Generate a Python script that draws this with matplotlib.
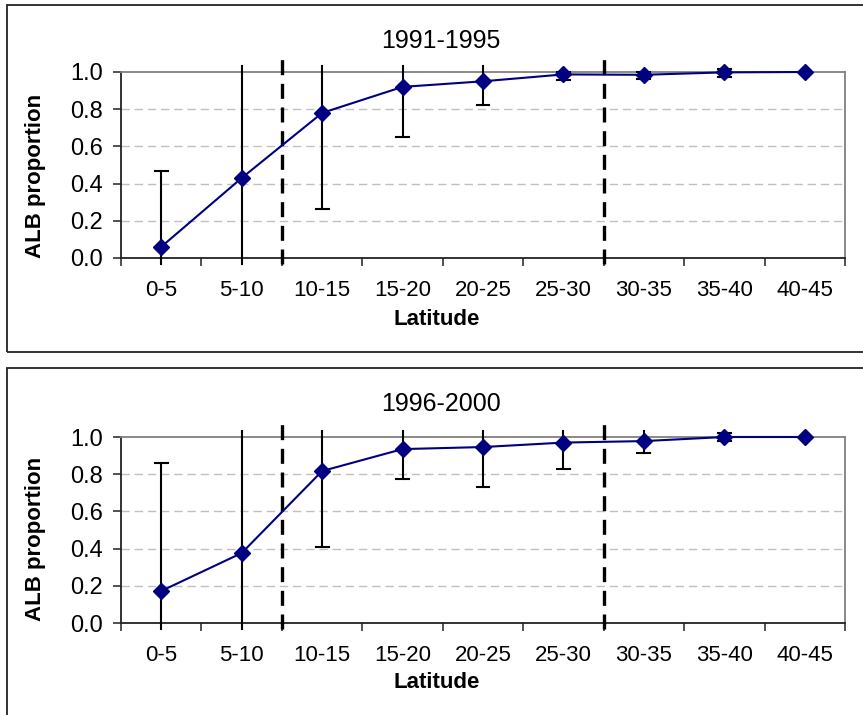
import matplotlib
matplotlib.use("Agg")
import matplotlib.pyplot as plt
import numpy as np
from matplotlib.patches import Rectangle

plt.rcParams['font.family'] = ['Liberation Sans', 'DejaVu Sans']

categories = ["0-5", "5-10", "10-15", "15-20", "20-25", "25-30", "30-35", "35-40", "40-45"]

titles = ["1991-1995", "1996-2000"]

p_1991 = [0.06, 0.43, 0.78, 0.92, 0.95, 0.987, 0.985, 0.998, 1.0]
lo_1991 = [-0.10, -0.10, 0.265, 0.652, 0.823, 0.955, 0.962, 0.975, 1.0]
hi_1991 = [0.47, 1.10, 1.10, 1.10, 1.10, 1.00, 1.00, 1.015, 1.0]

p_1996 = [0.172, 0.376, 0.817, 0.935, 0.946, 0.97, 0.978, 1.0, 1.0]
lo_1996 = [-0.10, -0.10, 0.409, 0.776, 0.731, 0.828, 0.914, 0.98, 1.0]
hi_1996 = [0.859, 1.10, 1.10, 1.10, 1.10, 1.10, 1.10, 1.02, 1.0]

boundaries = [1.5, 5.5]  # dashed separators between latitude bands

yticks = [0.0, 0.2, 0.4, 0.6, 0.8, 1.0]

W, H = 863, 715
fig = plt.figure(figsize=(W / 100, H / 100), dpi=100)

# panel boxes (pixel geometry)
panels = [
    dict(box=(7, 5, 880, 352), ax=(121, 72, 845, 258), title_y=41, xlab_y=320, ylab_y=176),
    dict(box=(7, 368, 880, 740), ax=(121, 437, 845, 623), title_y=404, xlab_y=683, ylab_y=539),
]

data = [(p_1991, lo_1991, hi_1991), (p_1996, lo_1996, hi_1996)]

CLIP_LO, CLIP_HI = -0.03, 1.03

for i, (pan, (p, lo, hi)) in enumerate(zip(panels, data)):
    bx0, by0, bx1, by1 = pan["box"]
    fig.patches.append(Rectangle((bx0 / W, 1 - by1 / H), (bx1 - bx0) / W, (by1 - by0) / H,
                                 transform=fig.transFigure, fill=False, edgecolor="#222222",
                                 linewidth=1.3, zorder=0))
    x0, y0, x1, y1 = pan["ax"]
    ax = fig.add_axes([x0 / W, 1 - y1 / H, (x1 - x0) / W, (y1 - y0) / H])
    x = np.arange(len(categories))
    ax.set_xlim(-0.5, len(categories) - 0.5)
    ax.set_ylim(0, 1.0)

    # grid
    for yv in yticks[1:-1]:
        ax.axhline(yv, color="#c0c0c0", lw=1.0, linestyle=(0, (6, 3.5)), zorder=1)

    # error bars
    lo_c = np.clip(lo, CLIP_LO, CLIP_HI)
    hi_c = np.clip(hi, CLIP_LO, CLIP_HI)
    for xi, a, b, la, hb in zip(x, lo_c, hi_c, lo, hi):
        if b - a <= 0:
            continue
        ax.plot([xi, xi], [a, b], color="black", lw=1.5, clip_on=False, zorder=3)
        if la >= 0:
            ax.plot([xi - 0.08, xi + 0.08], [a, a], color="black", lw=1.5, clip_on=False, zorder=3)
        if hb <= 1.025:
            ax.plot([xi - 0.08, xi + 0.08], [b, b], color="black", lw=1.5, clip_on=False, zorder=3)

    # dashed separators
    for bd in boundaries:
        ax.plot([bd, bd], [-0.03, 1.11], color="black", lw=2.4,
                linestyle=(0, (4.5, 2.6)), clip_on=False, zorder=4)

    # series
    ax.plot(x, p, color="#000080", lw=1.5, marker="D", ms=8, mfc="#000080",
            mec="#000080", zorder=5, clip_on=False)

    # axes styling
    ax.spines["top"].set_color("#808080")
    ax.spines["right"].set_color("#808080")
    ax.spines["left"].set_color("#222222")
    ax.spines["bottom"].set_color("#222222")
    for s in ax.spines.values():
        s.set_linewidth(1.3)
    ax.set_yticks(yticks)
    ax.set_yticklabels([f"{v:.1f}" for v in yticks], fontsize=17)
    ax.set_xticks(np.arange(-0.5, len(categories) + 0.5, 1.0))
    ax.set_xticklabels([])
    ax.set_xticks(x, minor=True)
    ax.set_xticklabels(categories, minor=True, fontsize=16)
    ax.tick_params(axis="x", which="major", length=6, width=1.1, color="#222222", direction="out")
    ax.tick_params(axis="x", which="minor", length=0, pad=16)
    ax.tick_params(axis="y", length=6, width=1.1, color="#222222", direction="out", pad=7)

    fig.text(441 / W, 1 - pan["title_y"] / H, titles[i], ha="center", va="center", fontsize=18)
    fig.text(437 / W, 1 - pan["xlab_y"] / H, "Latitude", ha="center", va="center",
             fontsize=16, fontweight="bold")
    fig.text(36 / W, 1 - pan["ylab_y"] / H, "ALB proportion", ha="center", va="center",
             fontsize=16, fontweight="bold", rotation=90)

fig.savefig("out.png", dpi=100, facecolor="white")
